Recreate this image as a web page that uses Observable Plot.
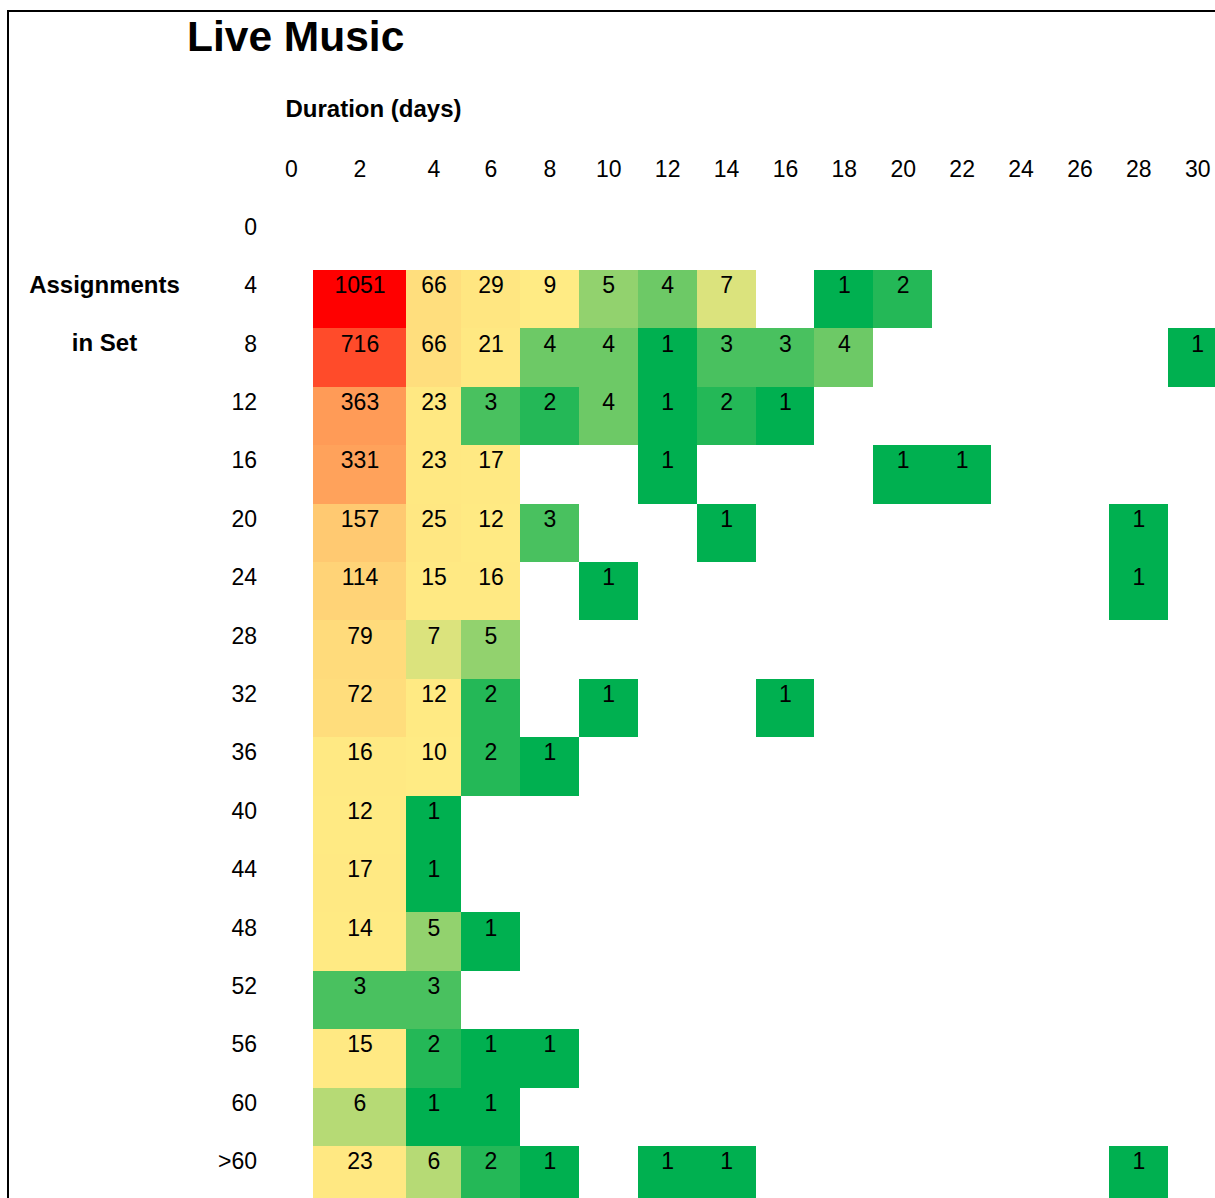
<!DOCTYPE html>
<html>
<head>
<meta charset="utf-8">
<script src="https://cdn.jsdelivr.net/npm/d3@7"></script>
<script src="https://cdn.jsdelivr.net/npm/@observablehq/plot@0.6"></script>
<style>
  html, body { margin: 0; padding: 0; background: #fff; overflow: hidden; }
  #frame { position: absolute; left: 7px; top: 10px; width: 1400px; height: 1400px;
           border-left: 2px solid #000; border-top: 2px solid #000; }
  #title { height: 70px; box-sizing: border-box; padding: 16px 0 0 187px;
           font: bold 42.5px/1 "Liberation Sans", Arial, sans-serif; color: #000; }
  #chart svg { display: block; }
</style>
</head>
<body>
<div id="frame"></div>
<div id="title">Live Music</div>
<div id="chart"></div>
<script>
// ---- data ----
const rowLabels = ["0", "4", "8", "12", "16", "20", "24", "28", "32", "36", "40", "44", "48", "52", "56", "60", ">60"];
const durations = [0, 2, 4, 6, 8, 10, 12, 14, 16, 18, 20, 22, 24, 26, 28, 30];
const _ = null;
const counts = [
  [_, _,    _,  _,  _, _, _, _, _, _, _, _, _, _, _, _], // 0
  [_, 1051, 66, 29, 9, 5, 4, 7, _, 1, 2, _, _, _, _, _], // 4
  [_, 716,  66, 21, 4, 4, 1, 3, 3, 4, _, _, _, _, _, 1], // 8
  [_, 363,  23, 3,  2, 4, 1, 2, 1, _, _, _, _, _, _, _], // 12
  [_, 331,  23, 17, _, _, 1, _, _, _, 1, 1, _, _, _, _], // 16
  [_, 157,  25, 12, 3, _, _, 1, _, _, _, _, _, _, 1, _], // 20
  [_, 114,  15, 16, _, 1, _, _, _, _, _, _, _, _, 1, _], // 24
  [_, 79,   7,  5,  _, _, _, _, _, _, _, _, _, _, _, _], // 28
  [_, 72,   12, 2,  _, 1, _, _, 1, _, _, _, _, _, _, _], // 32
  [_, 16,   10, 2,  1, _, _, _, _, _, _, _, _, _, _, _], // 36
  [_, 12,   1,  _,  _, _, _, _, _, _, _, _, _, _, _, _], // 40
  [_, 17,   1,  _,  _, _, _, _, _, _, _, _, _, _, _, _], // 44
  [_, 14,   5,  1,  _, _, _, _, _, _, _, _, _, _, _, _], // 48
  [_, 3,    3,  _,  _, _, _, _, _, _, _, _, _, _, _, _], // 52
  [_, 15,   2,  1,  1, _, _, _, _, _, _, _, _, _, _, _], // 56
  [_, 6,    1,  1,  _, _, _, _, _, _, _, _, _, _, _, _], // 60
  [_, 23,   6,  2,  1, _, 1, 1, _, _, _, _, _, _, 1, _]  // >60
];
const xLabel = "Duration (days)";
const yLabelLines = ["Assignments", "in Set"];

// ---- layout (relative column widths, as in the source sheet) ----
const colUnits = [0.747, 1.579, 0.934, 1, 1, 1, 1, 1, 1, 1, 1, 1, 1, 1, 1, 1];
const unitPx = 58.9;
const left = 269, topY = 141.6, rowH = 58.4;
const font = '"Liberation Sans", Arial, sans-serif';
const fs = 23;

const edges = [0, ...d3.cumsum(colUnits)];
const total = edges[edges.length - 1];
const centers = durations.map((d, i) => (edges[i] + edges[i + 1]) / 2);

const cells = [];
counts.forEach((row, r) => row.forEach((v, c) => {
  if (v != null) cells.push({row: rowLabels[r], col: durations[c], count: v,
                             x1: edges[c], x2: edges[c + 1], xc: centers[c]});
}));

const chart = Plot.plot({
  width: 1215,
  height: 1128,
  marginLeft: left, marginTop: topY, marginRight: 0, marginBottom: 0,
  x: {type: "linear", domain: [0, total], range: [left, left + total * unitPx], axis: null},
  y: {type: "band", domain: rowLabels, range: [topY, topY + rowLabels.length * rowH],
      padding: 0, round: false, axis: null},
  color: {type: "linear", domain: [1, 8, 1051], range: ["#00B050", "#FFEB84", "#FF0000"], interpolate: "rgb"},
  style: {fontFamily: font, fontSize: fs + "px", color: "#000", overflow: "visible",
          maxWidth: "none", background: "transparent"},
  marks: [
    Plot.barX(cells, {x1: "x1", x2: "x2", y: "row", fill: "count", shapeRendering: "crispEdges"}),
    Plot.text(cells, {x: "xc", y: "row", text: d => String(d.count), lineAnchor: "bottom",
                      dy: -6.5, fontSize: fs, fill: "#000"}),
    Plot.text(rowLabels, {y: d => d, text: d => d, frameAnchor: "left", textAnchor: "end",
                          dx: -12.5, lineAnchor: "bottom", dy: -6.5, fontSize: fs, fill: "#000"}),
    Plot.text(durations, {x: (d, i) => centers[i], text: d => String(d), frameAnchor: "top",
                          lineAnchor: "bottom", dy: -35.5, fontSize: fs, fill: "#000"}),
    Plot.text([xLabel], {text: d => d, frameAnchor: "top-left", textAnchor: "start", dx: 16,
                         dy: -94.8, lineAnchor: "bottom", fontWeight: "bold", fontSize: 24, fill: "#000"}),
    Plot.text([{row: "4", t: yLabelLines[0]}, {row: "8", t: yLabelLines[1]}],
              {y: "row", text: "t", frameAnchor: "left", textAnchor: "middle", dx: -165,
               lineAnchor: "bottom", dy: -7, fontWeight: "bold", fontSize: 24, fill: "#000"})
  ]
});
document.getElementById("chart").appendChild(chart);
</script>
</body>
</html>
